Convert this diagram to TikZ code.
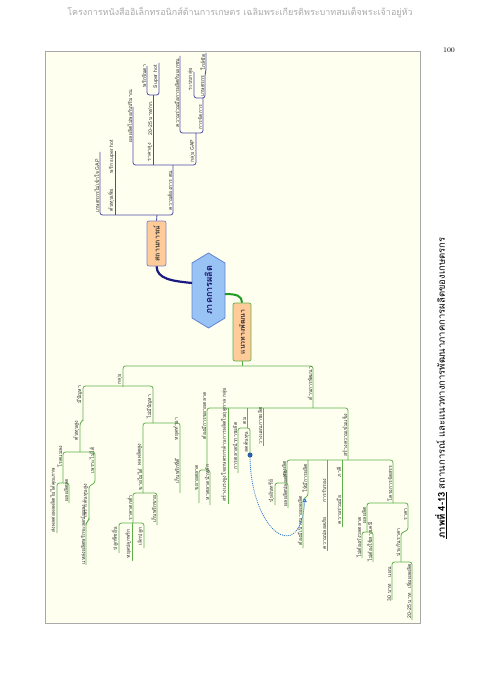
\documentclass[tikz,border=0pt]{standalone}
\usepackage{fontspec}
\newfontfamily\thai[Script=Thai]{Loma}
\usetikzlibrary{arrows.meta}
\definecolor{ucol}{HTML}{4A4AA8}
\definecolor{gcol}{HTML}{5DB04A}
\definecolor{paper}{HTML}{FFFFF0}
\definecolor{framec}{HTML}{A8A8A8}
\definecolor{txtc}{HTML}{333333}
\definecolor{peach}{HTML}{FFCC99}
\definecolor{hexfill}{HTML}{99C2F5}
\definecolor{hexdraw}{HTML}{5F85CF}
\definecolor{navyc}{HTML}{1A1A80}
\definecolor{greenc}{HTML}{229922}
\definecolor{linkc}{HTML}{3377CC}
\tikzset{
  ul/.style={draw=ucol, line width=0.8pt, rounded corners=2.5pt},
  gl/.style={draw=gcol, line width=0.8pt, rounded corners=2.5pt},
  tx/.style={rotate=90, anchor=south west, inner sep=0.6pt, font=\thai\fontsize{5.2}{5.2}\selectfont, text=txtc},
  mainbox/.style={rotate=90, rounded corners=2pt, fill=peach, line width=0.7pt, inner sep=1pt, font=\thai\bfseries\fontsize{7}{7}\selectfont, text=txtc},
}
\begin{document}
\begin{tikzpicture}[x=1pt,y=-1pt]
\useasboundingbox (0,0) rectangle (480,679);
\fill[white] (0,0) rectangle (480,679);
% header and page
\node[font=\thai\fontsize{9}{9}\selectfont, text=black!33] (header) at (240,13) {โครงการหนังสืออิเล็กทรอนิกส์ด้านการเกษตร เฉลิมพระเกียรติพระบาทสมเด็จพระเจ้าอยู่หัว};
\node[font=\fontsize{7}{7}\selectfont] (pagenum) at (449,50) {100};
\draw[draw=framec, fill=paper, line width=0.7pt] (45,51) rectangle (420,623);
\node[rotate=90, font=\thai\fontsize{9.5}{9.5}\selectfont] (caption) at (441,388) {\textbf{\underline{ภาพที่ 4-13}} สถานการณ์ และแนวทางการพัฒนาภาคการผลิตของเกษตรกร};

% root hexagon
\draw[fill=hexfill, draw=hexdraw, line width=0.8pt] (192,263) -- (208.5,253) -- (225,263) -- (225,318) -- (208.5,328) -- (192,318) -- cycle;
\node[rotate=90, font=\thai\bfseries\fontsize{9}{9}\selectfont, text=navyc!80!black] (root) at (208.5,290.5) {ภาคการผลิต};
\coordinate (rootW) at (192,283);
\coordinate (rootE) at (225,294);
\node[mainbox, draw=ucol!70, minimum height=19pt, minimum width=45pt] (sit) at (156.5,243.5) {สถานการณ์};
\node[mainbox, draw=gcol, minimum height=18pt, minimum width=58pt] (dev) at (242,332) {แนวทางพัฒนา};
\draw[navyc, line width=2.2pt] (rootW) .. controls (172,281) and (157,279) .. (sit.west);
\draw[greenc, line width=2pt] (rootE) .. controls (237,294) and (242,296) .. (dev.east);

% ---------------- upper tree ----------------
\draw[ul] (sit.east) -- (157,215);
\draw[ul] (100,152) -- (100,215) -- (173,215) -- (173,165);
\draw[ul] (115,215) -- (115,151);
\draw[ul] (133,107) -- (133,165) -- (196,165) -- (196,133);
\draw[ul] (153,165) -- (153,95);
\draw[ul] (147,66) -- (147,95) -- (159,95) -- (159,63);
\draw[ul] (180,56) -- (180,133) -- (203,133) -- (203,98);
\draw[ul] (194,72) -- (194,98) -- (205,98) -- (205,74) -- (206,71) -- (206,53);
\node[tx] (ua) at (100,213) {เกษตรกรไม่เข้าใจ GAP};
\node[tx] (ub) at (115,212) {ต้นทุนเพิ่ม};
\node[tx] (uc) at (115,174) {พริก super hot};
\node[tx] (ud) at (173,211) {ความต้องการ ตม.};
\node[tx] (ue) at (133,143) {ผลผลิตไม่พอกับปริมาณ};
\node[tx] (uf) at (153,162) {ราคาสูง};
\node[tx] (ug) at (153,136) {20-25 บาท/กก.};
\node[tx] (uh) at (147,88) {พริกจินดา};
\node[tx] (ui) at (159,89) {Super hot};
\node[tx] (uj) at (196,163) {กลุ่ม GAP};
\node[tx] (uk) at (180,128) {ความร่วมมือการผลิตกับเอกชน};
\node[tx] (ul) at (203,130) {การจัดการ};
\node[tx] (um) at (194,91) {ระบบกลุ่ม};
\node[tx] (un) at (205,97) {เกษตรกร};
\node[tx] (uo) at (206,71) {ใกล้ชิด};

% ---------------- lower tree ----------------
\draw[gl] (dev.west) -- (242,366);
\draw[gl] (123,387) -- (123,366) -- (313,366) -- (313,408);
\draw[gl] (83,421) -- (83,386) -- (153,386) -- (153,423);
\draw[gl] (83,420) -- (80,423) -- (80,452);
\draw[gl] (63,483) -- (63,452) -- (95,452) -- (95,483) -- (89,486) -- (89,520) -- (86,523) -- (86,565);
\draw[gl] (57,533) -- (57,483) -- (69,483) -- (69,503);
\node[tx] (la) at (123,385) {กลุ่ม};
\node[tx] (lb) at (83,404) {มีปัญหา};
\node[tx] (lc) at (80,441) {ต้นทุนสูง};
\node[tx] (ld) at (63,468) {โรคแมลง};
\node[tx] (le) at (57,533) {ส่งผลต่อผลผลิตไม่ได้คุณภาพ};
\node[tx] (lf) at (69,502) {ผลผลิตลด};
\node[tx] (lg) at (95,474) {เพราะไม่ได้};
\node[tx] (lh) at (89,518) {เพราะต้นทุนสูง};
\node[tx] (li) at (86,565) {แหล่งผลิตพริกจะลดน้อยลง};

\draw[gl] (143,493) -- (143,423) -- (180,423) -- (180,493);
\draw[gl] (133,523) -- (133,493) -- (157,493) -- (157,525);
\draw[gl] (119,553) -- (119,523) -- (144,523) -- (144,548);
\draw[gl] (132,523) -- (132,561);
\node[tx] (lj) at (153,419) {ไม่มีปัญหา};
\node[tx] (lk) at (143,466) {ผลผลิตสูง};
\node[tx] (ll) at (143,491) {ขายไม่ได้};
\node[tx] (lm) at (133,521) {ราคาตกต่ำ};
\node[tx] (ln) at (157,523) {เก็บพริกขาย};
\node[tx] (lo) at (119,551) {ปลูกพืชอื่น};
\node[tx] (lp) at (132,559) {หยุดปลูกพริก};
\node[tx] (lq) at (144,546) {เลิกปลูก};
\node[tx] (lr) at (180,441) {หยุดทำนา};
\node[tx] (ls) at (180,484) {เก็บพริกที่ดี};

\draw[gl] (207,470) -- (207,408) -- (348,408) -- (348,460);
\draw[gl] (228,408) -- (228,504);
\draw[gl] (247,408) -- (247,428);
\draw[gl] (263,408) -- (263,446);
\draw[gl] (199,503) -- (199,470) -- (210,470) -- (210,505);
\draw[gl] (238,473) -- (238,428) -- (250,428) -- (250,455);
\node[tx] (lt) at (313,401) {ด้านการพัฒนา};
\node[tx] (lu) at (207,440) {ต้องมีการขยายตลาด};
\node[tx] (lv) at (199,491) {ขยายตลาด};
\node[tx] (lw) at (210,501) {หาตลาดนำหลัก};
\node[tx] (lx) at (228,502) {สร้างแรงจูงใจเกษตรกรด้านการผลิตในฤดูกาล กลุ่ม};
\node[tx] (ly) at (247,425) {ตม};
\node[tx] (lz) at (238,470) {การตลาดนำการผลิต};
\node[tx] (lA) at (250,453) {ลดต้นทุน};
\node[tx] (lB) at (263,445) {วางแผนการผลิต};
\node[tx] (lC) at (348,457) {สร้างความเข้มแข็ง};

\draw[gl] (287,483) -- (287,460) -- (393,460) -- (393,503);
\draw[gl] (275,505) -- (275,483) -- (288,483) -- (288,508);
\draw[gl] (308,460) -- (308,496) -- (303,499) -- (303,548);
\draw[gl] (327,460) -- (327,551);
\draw[gl] (342,460) -- (342,527);
\node[tx] (lD) at (287,478) {ผลผลิต};
\node[tx] (lE) at (275,503) {ปุ๋ยอินทรีย์};
\node[tx] (lF) at (288,507) {ผลผลิตปลอดภัย};
\node[tx] (lG) at (308,493) {ให้มีการผลิต};
\node[tx] (lH) at (303,546) {ต้องมีเป้าหมายผลผลิต};
\node[tx] (lI) at (327,503) {การรับรอง};
\node[tx] (lJ) at (327,550) {ความปลอดภัย};
\node[tx] (lK) at (342,478) {ภาคี};
\node[tx] (lL) at (342,525) {ความร่วมมือ};

\draw[gl] (367,532) -- (367,503) -- (408,503) -- (408,530) -- (401,533) -- (401,562);
\draw[gl] (362,558) -- (362,532) -- (373,532) -- (373,562);
\draw[gl] (392,600) -- (392,562) -- (412,562) -- (412,620);
\node[tx] (lM) at (393,502) {โครงการจัดสรร};
\node[tx] (lN) at (367,524) {ผลผลิต};
\node[tx] (lO) at (362,558) {ไม่ต้องกังวลตลาด};
\node[tx] (lP) at (373,562) {ไม่ต้องใช้สารเคมี};
\node[tx] (lQ) at (408,521) {ราคา};
\node[tx] (lR) at (401,557) {ประกันราคา};
\node[tx] (lS) at (392,578) {แผน};
\node[tx] (lT) at (392,602) {30 บาท};
\node[tx] (lU) at (412,589) {เพิ่มผลผลิต};
\node[tx] (lV) at (412,619) {20-25 บาท};

% relationship link
\coordinate (linkS) at (250,455);
\coordinate (linkE) at (305,498);
\fill[linkc!80!black] (linkS) circle (2.5pt);
\draw[linkc, line width=0.8pt, dash pattern=on 1pt off 1pt, -{Triangle[open, length=4pt, width=4pt, fill=white]}] (linkS) .. controls (250,530) and (300,568) .. (linkE);
\end{tikzpicture}
\end{document}
